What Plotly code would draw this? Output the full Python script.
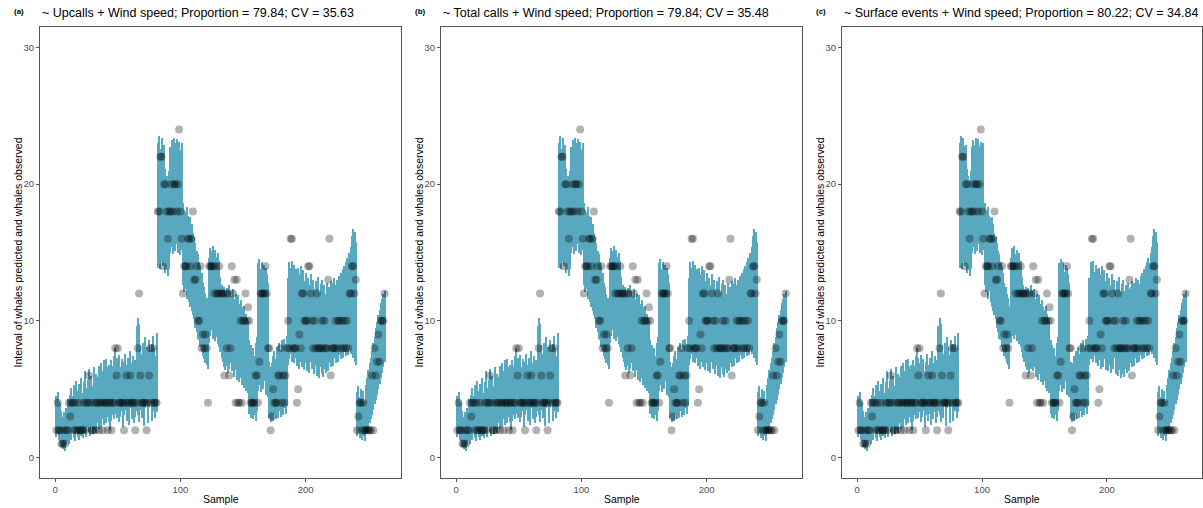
import plotly.graph_objects as go

# ---------------- data ----------------
sample = list(range(1, 264))

observed = [
    2, 4, 2, 2, 1, 1, 2, 1, 2, 2,
    4, 3, 4, 4, 2, 4, 2, 2, 4, 2,
    2, 2, 4, 2, 4, 4, 6, 4, 2, 2,
    4, 2, 4, 4, 2, 4, 4, 2, 4, 4,
    4, 2, 4, 4, 2, 4, 4, 8, 6, 8,
    4, 4, 4, 4, 2, 4, 6, 4, 4, 6,
    4, 4, 4, 2, 4, 8, 12, 6, 4, 4,
    4, 4, 2, 4, 6, 8, 4, 8, 4, 4,
    4, 18, 18, 22, 22, 14, 20, 20, 18, 16,
    18, 18, 20, 18, 20, 20, 18, 20, 24, 18,
    16, 12, 14, 14, 14, 16, 16, 14, 16, 18,
    13, 13, 14, 10, 10, 14, 8, 9, 8, 9,
    8, 4, 14, 14, 14, 14, 12, 14, 12, 12,
    14, 12, 12, 12, 6, 12, 8, 12, 6, 8,
    14, 12, 13, 4, 13, 4, 4, 10, 4, 10,
    10, 12, 10, 11, 10, 4, 4, 4, 4, 6,
    6, 4, 7, 12, 12, 12, 12, 14, 12, 8,
    8, 2, 3, 5, 4, 4, 4, 6, 6, 8,
    4, 6, 4, 6, 8, 10, 8, 16, 16, 8,
    8, 8, 4, 5, 9, 8, 12, 12, 10, 10,
    10, 14, 14, 12, 10, 8, 10, 8, 12, 8,
    8, 8, 10, 8, 10, 8, 8, 13, 16, 6,
    8, 8, 8, 10, 8, 10, 10, 8, 10, 8,
    10, 8, 10, 8, 12, 12, 14, 14, 12, 13,
    2, 3, 4, 4, 2, 4, 2, 2, 2, 2,
    2, 2, 6, 2, 8, 6, 7, 9, 7, 10,
    10, 10, 12,
]

lower = [
    1.5, 1.7, 1.3, 1.2, 0.8, 0.6, 0.8, 0.5, 0.9, 1.2,
    1.0, 1.6, 1.3, 1.8, 1.4, 1.2, 1.9, 1.5, 1.3, 2.0,
    1.6, 1.4, 2.1, 1.8, 1.5, 2.2, 1.9, 1.6, 2.3, 1.7,
    2.4, 2.0, 1.8, 2.5, 2.1, 2.6, 2.2, 2.8, 2.4, 2.9,
    2.5, 3.0, 2.6, 2.0, 2.7, 3.1, 2.8, 3.2, 2.9, 3.3,
    2.6, 3.0, 3.4, 2.2, 3.1, 3.5, 2.7, 3.2, 2.4, 3.6,
    2.8, 3.3, 2.5, 3.0, 3.4, 3.1, 2.6, 3.5, 2.9, 3.8,
    2.3, 3.6, 3.9, 2.5, 3.7, 4.0, 2.7, 3.4, 4.1, 2.9,
    3.3, 13.9, 14.2, 13.8, 14.3, 14.0, 14.5, 13.5, 13.7, 13.3,
    13.8, 15.0, 15.4, 14.9, 15.5, 15.1, 15.6, 15.0, 15.3, 14.8,
    15.2, 12.6, 12.1, 12.3, 11.6, 12.2, 11.4, 11.0, 10.7, 10.4,
    10.1, 9.5, 9.2, 8.7, 8.6, 8.1, 7.8, 7.4, 7.2, 6.9,
    6.8, 6.5, 8.4, 8.9, 9.3, 8.7, 9.0, 8.5, 8.8, 8.3,
    8.1, 7.7, 7.3, 7.0, 6.6, 6.4, 6.7, 6.2, 6.5, 6.9,
    6.3, 6.6, 5.9, 6.4, 5.7, 6.1, 5.5, 5.8, 5.3, 5.6,
    5.1, 4.9, 5.2, 4.7, 3.2, 2.9, 3.3, 2.8, 3.1, 2.7,
    3.4, 4.9, 5.3, 4.8, 5.5, 5.0, 5.6, 4.6, 5.2, 4.4,
    2.9, 2.6, 3.0, 2.7, 3.2, 2.8, 3.3, 2.9, 3.4, 3.0,
    3.5, 3.1, 3.6, 3.2, 3.8, 6.8, 7.2, 7.6, 7.0, 7.4,
    6.9, 7.3, 6.7, 7.1, 6.5, 7.0, 6.6, 7.2, 6.4, 6.9,
    6.3, 6.8, 6.2, 7.0, 6.5, 7.3, 6.1, 6.7, 6.0, 6.4,
    5.8, 6.6, 6.1, 5.9, 6.5, 6.2, 6.8, 6.3, 6.9, 6.6,
    7.1, 6.7, 7.3, 6.9, 7.4, 7.0, 7.5, 7.2, 7.6, 7.3,
    7.7, 7.4, 7.8, 7.5, 7.9, 7.6, 8.0, 7.3, 7.0, 6.8,
    1.6, 1.8, 1.4, 1.7, 1.3, 1.6, 1.2, 1.8, 1.9, 2.2,
    2.5, 2.8, 3.1, 3.5, 3.9, 4.2, 4.6, 5.0, 5.4, 5.8,
    6.2, 6.6, 7.0,
]

upper = [
    4.5, 4.8, 4.1, 4.0, 3.4, 3.0, 3.3, 3.1, 3.6, 4.3,
    3.9, 4.6, 5.1, 4.5, 5.3, 4.4, 5.6, 4.9, 5.4, 5.0,
    5.8, 4.7, 5.5, 6.3, 5.1, 5.7, 6.5, 5.4, 6.0, 5.2,
    6.6, 5.6, 6.1, 5.9, 6.7, 6.0, 6.9, 6.3, 7.1, 6.4,
    7.2, 6.6, 6.8, 6.2, 7.1, 6.7, 7.4, 8.0, 7.3, 6.9,
    7.5, 6.6, 7.2, 6.3, 7.0, 7.6, 6.8, 7.3, 6.5, 7.8,
    6.9, 7.4, 6.7, 7.1, 9.6, 10.2, 9.8, 8.2, 7.6, 8.4,
    7.2, 8.8, 8.1, 7.5, 8.6, 7.9, 8.3, 8.9, 8.0, 7.4,
    9.1, 23.0, 23.5, 22.6, 23.4, 22.8, 22.9, 21.1, 20.6, 20.3,
    21.0, 22.7, 23.2, 22.9, 23.4, 23.0, 23.3, 22.8, 23.1, 22.5,
    23.0, 18.6, 18.1, 18.0, 18.3, 17.7, 17.5, 17.6, 17.1, 16.4,
    16.1, 15.7, 15.1, 14.9, 14.3, 14.0, 13.5, 12.8, 12.5, 12.0,
    11.7, 11.1, 14.6, 15.3, 15.1, 15.5, 14.9, 15.2, 14.7, 15.0,
    14.4, 13.2, 12.6, 12.3, 12.5, 12.0, 12.4, 12.1, 12.6, 12.2,
    11.8, 12.3, 11.6, 12.0, 11.4, 11.9, 11.2, 11.5, 11.0, 10.8,
    11.1, 10.5, 10.2, 10.0, 8.6, 8.2, 7.6, 8.0, 7.4, 8.4,
    8.8, 14.2, 14.5, 13.8, 14.3, 13.6, 14.1, 13.9, 13.4, 12.8,
    7.0, 6.6, 6.9, 7.4, 7.8, 7.2, 8.1, 7.6, 8.4, 7.9,
    8.6, 8.0, 8.7, 8.3, 8.9, 13.1, 14.3, 13.9, 14.4, 13.6,
    14.1, 13.8, 13.2, 13.9, 13.4, 14.0, 13.3, 13.7, 12.9, 13.5,
    12.7, 13.1, 12.6, 13.4, 12.8, 13.0, 12.3, 12.9, 12.4, 13.2,
    12.1, 12.7, 13.0, 12.2, 12.6, 12.0, 12.8, 12.3, 12.5, 12.9,
    12.4, 12.8, 13.1, 12.6, 13.0, 12.7, 13.3, 13.5, 13.2, 13.8,
    14.0, 14.3, 14.6, 14.2, 15.0, 15.4, 16.2, 16.7, 16.5, 15.8,
    4.8, 5.2, 4.4, 5.0, 4.3, 4.9, 4.1, 5.3, 5.8, 6.4,
    6.9, 7.3, 7.8, 8.4, 8.8, 9.5, 9.9, 10.4, 10.8, 11.3,
    11.6, 12.0, 12.2,
]

titles = [
    "~ Upcalls + Wind speed; Proportion = 79.84; CV = 35.63",
    "~ Total calls + Wind speed; Proportion = 79.84; CV = 35.48",
    "~ Surface events + Wind speed; Proportion = 80.22; CV = 34.84",
]
tags = ["(a)", "(b)", "(c)"]
x_ticks = [0, 100, 200]
y_ticks = [0, 10, 20, 30]
y_title = "Interval of whales predicted and whales observed"
x_title = "Sample"

# ---------------- figure ----------------
W, H = 1203, 508
TEAL = "rgb(88,168,191)"
FONT = "Liberation Sans, Arial, sans-serif"
panels_px = [(40, 401), (441, 802), (842, 1202)]
ytop, ybot = 27, 478

fig = go.Figure()
heights = [u - l for u, l in zip(upper, lower)]
annotations = []

for i, (x0, x1) in enumerate(panels_px):
    sfx = "" if i == 0 else str(i + 1)
    xa, ya = "x" + sfx, "y" + sfx
    fig.add_trace(go.Bar(
        x=sample, y=heights, base=lower, width=0.85,
        marker=dict(color=TEAL, line=dict(width=0)),
        xaxis=xa, yaxis=ya, showlegend=False, hoverinfo="skip",
    ))
    fig.add_trace(go.Scatter(
        x=sample, y=observed, mode="markers",
        marker=dict(size=8, color="rgba(0,0,0,0.3)", line=dict(width=0)),
        xaxis=xa, yaxis=ya, showlegend=False,
    ))
    dom_x = [x0 / W, x1 / W]
    dom_y = [1 - ybot / H, 1 - ytop / H]
    common = dict(showgrid=False, zeroline=False, showline=True, mirror=True,
                  linecolor="#555555", linewidth=1, ticks="outside", ticklen=3,
                  tickcolor="#555555", tickfont=dict(family=FONT, size=9.5, color="#4d4d4d"))
    fig.update_layout(**{
        "xaxis" + sfx: dict(domain=dom_x, range=[-12.1, 276.1], tickvals=x_ticks,
                            anchor=ya, **common),
        "yaxis" + sfx: dict(domain=dom_y, range=[-1.5, 31.5], tickvals=y_ticks,
                            anchor=xa, **common),
    })
    # panel tag and title
    annotations.append(dict(text="<b>" + tags[i] + "</b>", x=(x0 - 28) / W, y=1 - 12 / H,
                            xref="paper", yref="paper", xanchor="left", yanchor="middle",
                            showarrow=False, font=dict(family=FONT, size=8, color="black")))
    annotations.append(dict(text=titles[i], x=x0 / W, y=1 - 13 / H,
                            xref="paper", yref="paper", xanchor="left", yanchor="middle",
                            showarrow=False, font=dict(family=FONT, size=12.5, color="black")))
    # axis titles
    annotations.append(dict(text=x_title, x=(x0 + x1) / 2 / W, y=1 - 499 / H,
                            xref="paper", yref="paper", xanchor="center", yanchor="middle",
                            showarrow=False, font=dict(family=FONT, size=10.5, color="black")))
    annotations.append(dict(text=y_title, x=(x0 - 23) / W, y=1 - (ytop + ybot) / 2 / H,
                            xref="paper", yref="paper", xanchor="center", yanchor="middle",
                            textangle=-90, showarrow=False,
                            font=dict(family=FONT, size=10.5, color="black")))

fig.update_layout(
    width=W, height=H,
    margin=dict(l=0, r=0, t=0, b=0),
    paper_bgcolor="white", plot_bgcolor="white",
    bargap=0, barmode="overlay",
    annotations=annotations,
    showlegend=False,
)

fig.write_html("out.html",
               config={"displayModeBar": False},
               post_script="document.body.style.margin='0px';document.body.style.overflow='hidden';")
